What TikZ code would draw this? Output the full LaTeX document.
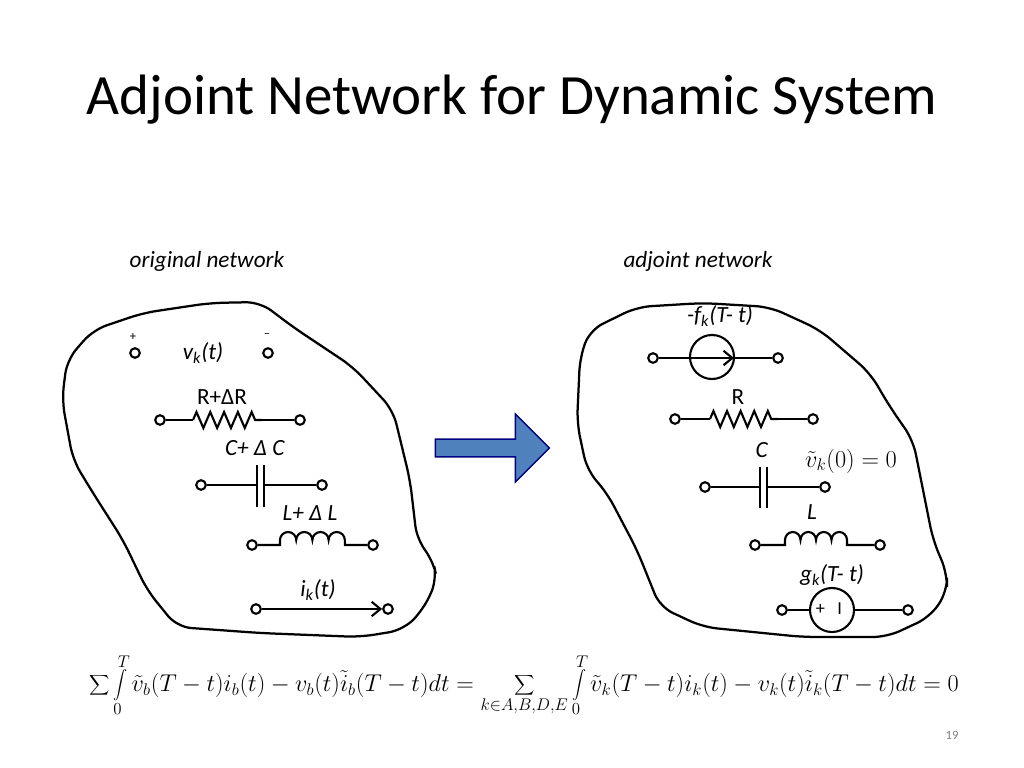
\documentclass[tikz,border=0pt]{standalone}
\usepackage{fontspec}
\setmainfont{Carlito}
\usetikzlibrary{decorations.pathmorphing,shapes.arrows,arrows.meta}
\begin{document}
\begin{tikzpicture}[
    x=0.025cm, y=-0.025cm,
    wire/.style={line width=1.5pt},
    term/.style={circle, draw, line width=1.5pt, fill=white, inner sep=0pt, minimum size=0.24cm},
    lbl/.style={font=\fontsize{16.5}{19}\selectfont},
    blob/.style={line width=1.6pt, rounded corners=0.35cm},
    src/.style={circle, draw, line width=1.5pt, fill=white, inner sep=0pt, minimum size=1.1cm},
    barb/.style={-{Straight Barb[length=0.22cm,width=0.36cm]}}
]
    \useasboundingbox (0,0) rectangle (1024,768);
    % title and captions
    \node[font=\fontsize{40.5}{46}\selectfont] (title) at (512,100) {Adjoint Network for Dynamic System};
    \node[font=\fontsize{16.5}{19}\selectfont\itshape] (orig) at (207,261) {original network};
    \node[font=\fontsize{16.5}{19}\selectfont\itshape] (adj) at (698,261) {adjoint network};

    % outlines
    \draw[blob] (67,360) -- (93,330) -- (143,313) -- (210,303) -- (260,302) -- (293,327) -- (353,367)
        -- (393,410) -- (410,480) -- (417,540) -- (433,560) -- (437,580) -- (423,610) -- (403,630)
        -- (360,637) -- (260,633) -- (177,627) -- (147,590) -- (123,540) -- (93,493) -- (73,460)
        -- (62,400) -- cycle;
    \draw[blob] (580,357) -- (590,330) -- (637,307) -- (703,303) -- (770,307) -- (820,330) -- (870,373)
        -- (890,407) -- (913,440) -- (923,490) -- (933,540) -- (947,573) -- (947,592) -- (930,617)
        -- (887,637) -- (803,637) -- (703,627) -- (660,607) -- (637,550) -- (607,493) -- (587,470)
        -- (577,423) -- cycle;

    % block arrow
    \node[single arrow, draw=blue!50!black, fill={rgb,255:red,79;green,129;blue,189}, line width=1pt,
        minimum width=1.7cm, single arrow head extend=0.05cm, minimum height=2.85cm, inner sep=0pt]
        (go) at (488,448) {};

    % original network
    \node[term] (v1) at (135,353) {};
    \node[term] (v2) at (268,353) {};
    \node[font=\small] (vp) at (133,337) {+};
    \node[font=\small] (vm) at (267,336) {--};
    \node[lbl] (vk) at (203,353) {\textit{v\textsubscript{k}(t)}};

    \node[term] (r1) at (160,420) {};
    \node[term] (r2) at (300,420) {};
    \draw[wire] (r1) -- (193,420);
    \draw[wire, decorate, decoration={zigzag, segment length=0.345cm, amplitude=0.2cm}] (193,420) -- (262,420);
    \draw[wire] (262,420) -- (r2);
    \node[lbl] (rl) at (222,397) {R+ΔR};

    \node[term] (c1) at (201,485) {};
    \node[term] (c2) at (322,485) {};
    \draw[wire] (c1) -- (257,485) (257,465) -- (257,507);
    \draw[wire] (c2) -- (264,485) (264,465) -- (264,507);
    \node[lbl] (cl) at (255,448) {\textit{C+ Δ C}};

    \node[term] (l1) at (252,545) {};
    \node[term] (l2) at (373,545) {};
    \draw[wire] (l1) -- (280,545) -- (280,540)
        \foreach \k in {0,...,3} { arc[start angle=180, end angle=0, x radius=8.1, y radius=-8] }
        -- (345,545) -- (l2);
    \node[lbl] (ll) at (310,513) {\textit{L+ Δ L}};

    \node[term] (i1) at (256,609) {};
    \node[term] (i2) at (388,609) {};
    \draw[wire, barb] (i1) -- (i2);
    \node[lbl] (il) at (318,590) {\textit{i\textsubscript{k}(t)}};

    % adjoint network
    \node[term] (f1) at (653,358) {};
    \node[term] (f2) at (778,358) {};
    \node[src] (fs) at (712,357) {};
    \draw[wire] (f1) -- (f2);
    \draw[wire, barb] (690,358) -- (734,358);
    \node[lbl] (fl) at (720,316) {\textit{-f\textsubscript{k}(T- t)}};

    \node[term] (s1) at (675,419) {};
    \node[term] (s2) at (813,419) {};
    \draw[wire] (s1) -- (710,419);
    \draw[wire, decorate, decoration={zigzag, segment length=0.34cm, amplitude=0.2cm}] (710,419) -- (778,419);
    \draw[wire] (778,419) -- (s2);
    \node[lbl] (sl) at (738,397) {R};

    \node[term] (d1) at (705,487) {};
    \node[term] (d2) at (825,487) {};
    \draw[wire] (d1) -- (760,487) (760,467) -- (760,508);
    \draw[wire] (d2) -- (767,487) (767,467) -- (767,508);
    \node[lbl] (dl) at (762,450) {\textit{C}};
    \node[font=\fontsize{17}{20}\selectfont] (ic) at (851,461) {$\tilde{v}_k(0)=0$};

    \node[term] (m1) at (755,545) {};
    \node[term] (m2) at (880,545) {};
    \draw[wire] (m1) -- (785,545) -- (785,540)
        \foreach \k in {0,...,3} { arc[start angle=180, end angle=0, x radius=7.75, y radius=-8] }
        -- (847,545) -- (m2);
    \node[lbl] (ml) at (812,512) {\textit{L}};

    \node[term] (g1) at (782,610) {};
    \node[term] (g2) at (908,610) {};
    \draw[wire] (g1) -- (g2);
    \node[src] (gs) at (832,610) {};
    \node[font=\fontsize{13}{15}\selectfont] (gp) at (829,609) {+\ \ \ I};
    \node[lbl] (gl) at (832,575) {\textit{g\textsubscript{k}(T- t)}};

    % equation
    \node[font=\fontsize{18.5}{22}\selectfont] (eq) at (524,685)
        {$\displaystyle \sum\int\limits_0^T \tilde{v}_b(T-t)i_b(t)-v_b(t)\tilde{i}_b(T-t)dt=
        \sum_{k\in A,B,D,E}\int\limits_0^T \tilde{v}_k(T-t)i_k(t)-v_k(t)\tilde{i}_k(T-t)dt=0$};
    \node[font=\small, text=gray] (pg) at (952,735) {19};
\end{tikzpicture}
\end{document}
